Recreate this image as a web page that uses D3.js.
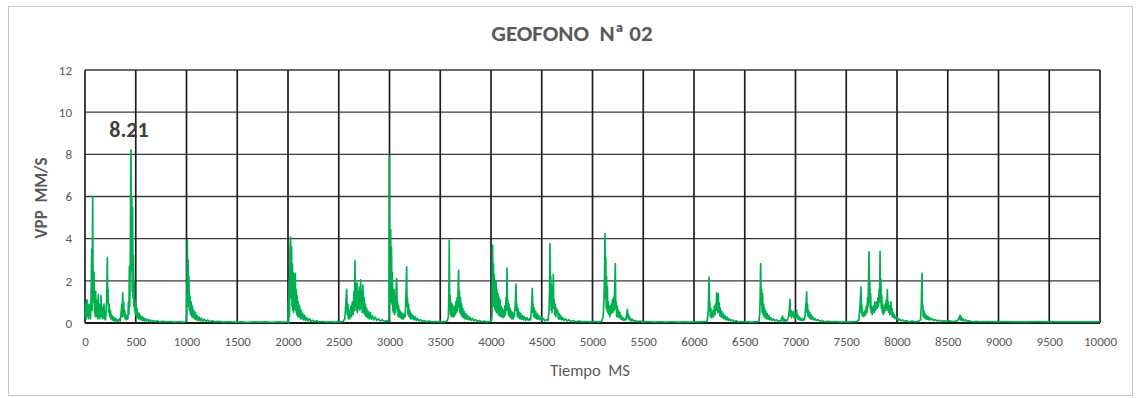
<!DOCTYPE html>
<html>
<head>
<meta charset="utf-8">
<script src="https://cdn.jsdelivr.net/npm/d3@7"></script>
<style>
  html, body { margin: 0; padding: 0; background: #ffffff; }
  svg { display: block; }
  text { font-family: Carlito, "Liberation Sans", Arial, sans-serif; white-space: pre; }
</style>
</head>
<body>
<svg id="chart" width="1139" height="398"></svg>
<script>
// Chart labels
const chartTitle = "GEOFONO  Nª 02";
const yTitle = "VPP  MM/S";
const xTitle = "Tiempo  MS";

// Axis ticks
const xTicks = [0, 500, 1000, 1500, 2000, 2500, 3000, 3500, 4000, 4500, 5000,
                5500, 6000, 6500, 7000, 7500, 8000, 8500, 9000, 9500, 10000];
const yTicks = [0, 2, 4, 6, 8, 10, 12];

// Geophone record: time (ms) and peak particle velocity (mm/s), one burst per array
const burst0 = [[0,0.3],[5,0.9],[10,0.2],[15,1.0],[20,1.1],[25,0.3],[30,0.8],[35,0.2],[40,0.9],[45,0.4],[50,0.7],[55,0.2],[60,1.2],[66,3.5],[70,0.6],[76,6.0],[80,1.0],[84,2.0],[89,2.4],[93,0.5],[97,1.2],[101,0.3],[105,1.5],[109,0.4],[113,1.1],[117,0.3],[122,0.9],[127,0.2],[131,1.35],[135,0.4],[140,0.9],[145,0.2],[150,0.7],[154,0.3],[158,1.3],[162,0.4],[167,0.8],[172,0.2],[177,0.6],[182,0.3],[187,0.9],[192,0.2],[197,0.5],[202,0.15],[208,0.6],[214,1.2],[220,3.1],[224,1.0],[228,1.6],[233,0.5],[238,0.9],[244,0.3],[250,0.6],[256,0.2],[262,0.4],[268,0.15],[275,0.3],[282,0.1],[290,0.25],[298,0.1],[306,0.2],[314,0.08],[322,0.15],[330,0.1],[340,0.2],[348,0.1],[356,0.5],[362,0.9],[367,0.3],[371,1.43],[376,0.5],[381,1.0],[386,0.3],[391,0.6],[396,0.2],[402,0.4],[408,0.15],[415,0.3],[422,0.2],[428,1.0],[433,0.4],[437,2.66],[441,0.8],[446,3.0],[450,6.5],[453,8.21],[457,2.5],[461,6.0],[465,1.5],[469,5.5],[473,1.2],[477,3.2],[481,0.8],[485,2.0],[489,0.6],[493,1.1],[497,0.4],[502,0.9],[507,0.3],[512,0.7],[517,0.25],[522,0.5],[528,0.2],[534,0.45],[540,0.2],[547,0.35],[554,0.15],[561,0.3],[569,0.12],[577,0.25],[586,0.1],[595,0.2],[605,0.1],[616,0.18],[628,0.08],[640,0.15],[655,0.07],[670,0.12],[690,0.06],[710,0.1],[735,0.05],[760,0.08],[800,0.05],[840,0.07],[880,0.04],[920,0.06],[960,0.04],[990,0.06]];

const burst1000 = [[1000,0.1],[1004,1.5],[1008,3.92],[1012,1.0],[1016,3.0],[1020,0.8],[1024,2.2],[1028,0.6],[1034,1.3],[1040,0.4],[1046,1.0],[1052,0.3],[1058,0.8],[1065,0.25],[1072,0.6],[1080,0.2],[1088,0.5],[1096,0.15],[1105,0.35],[1115,0.12],[1125,0.28],[1136,0.1],[1148,0.22],[1160,0.08],[1175,0.18],[1190,0.07],[1210,0.14],[1230,0.06],[1255,0.1],[1280,0.05],[1320,0.08],[1360,0.04],[1420,0.06],[1480,0.04],[1540,0.05],[1600,0.03],[1660,0.05],[1720,0.04],[1780,0.05],[1840,0.03],[1900,0.05],[1960,0.04],[1995,0.05]];

const burst2000 = [[2000,0.1],[2003,1.0],[2007,0.0],[2011,2.0],[2015,0.3],[2020,3.5],[2026,4.08],[2030,1.2],[2035,3.6],[2040,0.8],[2044,2.8],[2048,0.6],[2052,2.4],[2056,0.5],[2060,2.0],[2064,0.7],[2068,2.2],[2072,2.36],[2076,0.6],[2080,1.6],[2085,0.4],[2090,1.3],[2096,0.3],[2102,1.0],[2108,0.3],[2115,0.8],[2122,0.2],[2130,0.6],[2138,0.2],[2146,0.45],[2155,0.15],[2165,0.35],[2175,0.12],[2186,0.25],[2198,0.1],[2212,0.2],[2226,0.08],[2242,0.14],[2260,0.06],[2280,0.1],[2305,0.05],[2340,0.07],[2380,0.04],[2420,0.06],[2460,0.04],[2500,0.05],[2540,0.06],[2560,0.2],[2568,0.8],[2578,1.6],[2584,0.4],[2590,0.9],[2595,0.2],[2602,0.6],[2610,0.2],[2618,0.8],[2626,0.3],[2634,1.0],[2642,0.4],[2650,1.5],[2655,0.6],[2660,2.95],[2665,0.8],[2670,1.8],[2675,0.6],[2680,1.9],[2685,0.5],[2690,1.5],[2696,0.7],[2702,1.7],[2708,0.6],[2716,2.05],[2720,0.7],[2726,1.5],[2732,0.5],[2738,1.8],[2744,0.5],[2750,1.2],[2756,0.4],[2762,0.9],[2769,0.3],[2776,0.7],[2784,0.25],[2792,0.55],[2800,0.2],[2810,0.5],[2820,0.18],[2832,0.35],[2845,0.15],[2860,0.28],[2875,0.12],[2890,0.2],[2910,0.1],[2930,0.15],[2950,0.08],[2970,0.1],[2990,0.07]];

const burst3000 = [[2995,0.3],[2998,7.9],[3001,1.0],[3005,3.0],[3009,1.2],[3012,4.43],[3016,1.0],[3020,3.6],[3024,0.9],[3028,2.4],[3032,0.6],[3036,1.4],[3040,0.5],[3045,1.6],[3050,0.4],[3055,1.2],[3060,0.5],[3066,1.7],[3071,2.1],[3075,0.7],[3080,1.0],[3085,0.3],[3090,0.8],[3096,0.3],[3102,0.6],[3108,0.25],[3115,0.5],[3122,0.2],[3130,0.45],[3138,0.2],[3146,0.4],[3154,0.3],[3160,1.0],[3165,1.8],[3169,2.66],[3173,0.8],[3177,1.2],[3182,0.4],[3188,0.9],[3194,0.3],[3200,0.6],[3207,0.2],[3215,0.45],[3223,0.2],[3232,0.35],[3242,0.15],[3252,0.3],[3263,0.12],[3275,0.22],[3290,0.1],[3305,0.16],[3322,0.08],[3340,0.12],[3360,0.06],[3390,0.09],[3420,0.05],[3460,0.07],[3500,0.05],[3540,0.06],[3570,0.1],[3580,0.3],[3585,1.5],[3589,3.92],[3593,0.6],[3597,1.3],[3601,0.4],[3605,1.0],[3610,0.3],[3615,0.5],[3620,0.9],[3625,0.3],[3630,0.7],[3636,0.3],[3642,0.8],[3648,0.4],[3654,1.0],[3660,0.5],[3666,1.2],[3672,0.6],[3677,1.8],[3681,2.5],[3685,0.8],[3689,1.5],[3694,0.5],[3699,1.2],[3704,0.4],[3710,0.9],[3716,0.3],[3722,0.7],[3729,0.25],[3736,0.55],[3744,0.2],[3752,0.45],[3760,0.18],[3770,0.35],[3780,0.15],[3792,0.28],[3805,0.12],[3818,0.22],[3832,0.1],[3848,0.16],[3865,0.08],[3885,0.12],[3905,0.06],[3930,0.09],[3960,0.05],[3990,0.07],[4005,0.1]];

const burst4000 = [[4010,0.4],[4016,3.69],[4020,1.2],[4024,2.8],[4028,0.8],[4032,2.3],[4036,0.7],[4040,1.9],[4044,0.6],[4050,2.0],[4054,0.5],[4058,1.6],[4062,0.5],[4068,1.4],[4073,0.4],[4078,1.2],[4083,0.35],[4089,1.1],[4094,0.3],[4100,0.8],[4106,0.3],[4112,0.7],[4118,0.25],[4124,0.6],[4130,0.3],[4136,0.8],[4142,0.4],[4148,1.2],[4153,0.6],[4158,2.6],[4162,0.7],[4166,1.1],[4171,0.4],[4176,0.9],[4182,0.3],[4188,0.7],[4194,0.25],[4200,0.55],[4206,0.2],[4212,0.5],[4218,0.2],[4224,0.4],[4230,0.3],[4236,0.7],[4241,1.0],[4246,1.84],[4250,0.6],[4255,0.9],[4260,0.3],[4266,0.7],[4272,0.25],[4279,0.5],[4286,0.2],[4293,0.45],[4301,0.18],[4310,0.35],[4320,0.15],[4330,0.3],[4342,0.12],[4355,0.25],[4368,0.12],[4380,0.2],[4390,0.15],[4397,0.6],[4402,1.0],[4407,1.64],[4411,0.5],[4416,0.9],[4421,0.3],[4427,0.7],[4433,0.25],[4440,0.55],[4447,0.2],[4455,0.45],[4463,0.18],[4472,0.35],[4482,0.15],[4493,0.28],[4505,0.12],[4518,0.22],[4532,0.1],[4548,0.16],[4562,0.12],[4572,0.6],[4577,1.5],[4581,3.77],[4585,1.0],[4589,2.2],[4593,0.6],[4597,1.65],[4601,0.5],[4606,1.8],[4610,0.8],[4614,2.3],[4618,0.7],[4622,1.1],[4627,0.4],[4632,0.9],[4638,0.3],[4644,0.7],[4650,0.5],[4656,0.6],[4663,0.2],[4670,0.45],[4678,0.18],[4687,0.35],[4697,0.15],[4708,0.25],[4720,0.12],[4734,0.2],[4750,0.1],[4768,0.15],[4788,0.08],[4810,0.12],[4835,0.06],[4865,0.09],[4900,0.05],[4940,0.07],[4980,0.05]];

const burst5000 = [[5020,0.07],[5060,0.05],[5090,0.08],[5105,0.3],[5112,1.0],[5118,2.0],[5123,4.24],[5127,1.2],[5131,3.1],[5135,0.7],[5139,2.2],[5143,0.6],[5147,1.7],[5151,0.5],[5156,1.0],[5161,0.4],[5166,0.8],[5171,0.3],[5175,0.8],[5180,0.4],[5185,0.9],[5190,0.5],[5196,1.1],[5202,0.5],[5208,1.2],[5214,0.6],[5220,1.8],[5225,2.82],[5229,0.7],[5233,1.0],[5238,0.3],[5244,0.8],[5250,0.3],[5256,0.6],[5263,0.25],[5270,0.5],[5276,0.2],[5284,0.35],[5292,0.15],[5300,0.25],[5310,0.12],[5320,0.2],[5330,0.15],[5336,0.4],[5343,0.65],[5348,0.25],[5355,0.4],[5362,0.15],[5370,0.25],[5380,0.1],[5392,0.18],[5405,0.08],[5420,0.12],[5440,0.07],[5465,0.09],[5500,0.05],[5550,0.07],[5600,0.04],[5660,0.06],[5720,0.04],[5780,0.06],[5840,0.04],[5900,0.05],[5960,0.04],[6020,0.06],[6080,0.05],[6130,0.08]];

const burst6000 = [[6140,0.5],[6144,1.2],[6148,2.16],[6152,0.6],[6156,1.0],[6161,0.3],[6166,0.7],[6171,0.25],[6176,0.5],[6182,0.3],[6188,0.6],[6194,0.3],[6200,0.8],[6206,0.4],[6212,0.9],[6218,0.6],[6223,1.43],[6227,0.6],[6231,1.0],[6235,0.5],[6240,1.4],[6244,0.5],[6249,0.95],[6254,0.35],[6260,0.7],[6266,0.3],[6273,0.55],[6280,0.25],[6288,0.45],[6296,0.2],[6305,0.35],[6315,0.15],[6326,0.28],[6338,0.12],[6350,0.2],[6362,0.1],[6378,0.15],[6395,0.07],[6415,0.1],[6440,0.05],[6470,0.07],[6500,0.05],[6530,0.06],[6560,0.04],[6590,0.06],[6620,0.05],[6640,0.08],[6648,0.5],[6652,1.3],[6657,2.82],[6661,0.9],[6666,1.6],[6671,0.5],[6676,1.4],[6681,0.4],[6686,0.9],[6691,0.3],[6696,0.7],[6701,0.25],[6707,0.55],[6714,0.2],[6722,0.45],[6730,0.18],[6739,0.35],[6748,0.15],[6758,0.25],[6770,0.12],[6782,0.2],[6796,0.1],[6813,0.15],[6830,0.08],[6848,0.12],[6860,0.1],[6866,0.25],[6873,0.33],[6879,0.1],[6886,0.2],[6895,0.08],[6905,0.15],[6915,0.1],[6925,0.2],[6932,0.3],[6940,0.7],[6946,1.12],[6950,0.35],[6955,0.6],[6960,0.25],[6966,0.5],[6972,0.35],[6978,0.55],[6984,0.25],[6990,0.4],[6996,0.2]];

const burst7000 = [[7002,0.45],[7007,0.3],[7011,0.6],[7016,0.25],[7021,0.4],[7027,0.18],[7033,0.3],[7040,0.15],[7048,0.25],[7056,0.12],[7064,0.2],[7072,0.12],[7080,0.2],[7088,0.15],[7095,0.4],[7100,0.8],[7105,1.0],[7110,1.48],[7114,0.5],[7118,0.9],[7123,0.35],[7128,0.6],[7134,0.25],[7140,0.5],[7147,0.2],[7154,0.4],[7161,0.18],[7170,0.3],[7180,0.15],[7192,0.22],[7205,0.12],[7220,0.16],[7238,0.08],[7260,0.12],[7285,0.06],[7320,0.08],[7360,0.05],[7400,0.07],[7450,0.04],[7500,0.06],[7550,0.05],[7600,0.07],[7625,0.15],[7632,0.6],[7638,1.0],[7645,1.72],[7649,0.5],[7653,0.9],[7658,0.35],[7663,0.5],[7668,0.3],[7674,0.5],[7680,0.35],[7686,0.6],[7692,0.4],[7698,0.8],[7704,0.5],[7710,1.2],[7715,0.8],[7720,2.0],[7724,3.37],[7728,1.0],[7732,2.0],[7736,0.7],[7740,1.4],[7745,0.5],[7750,0.8],[7755,0.4],[7760,0.6],[7764,0.5],[7770,0.8],[7776,0.5],[7782,1.0],[7788,0.6],[7794,0.9],[7800,1.0],[7806,0.7],[7812,1.2],[7818,0.8],[7824,1.6],[7829,1.0],[7833,3.4],[7837,1.0],[7841,2.1],[7845,0.7],[7850,1.3],[7855,0.5],[7860,0.9],[7865,0.4],[7870,0.6],[7876,0.5],[7882,0.9],[7888,0.6],[7894,1.1],[7899,0.7],[7905,1.59],[7909,0.6],[7914,1.0],[7919,0.5],[7924,0.8],[7929,0.4],[7935,0.7],[7940,1.0],[7945,0.4],[7950,0.7],[7955,0.3],[7960,0.5],[7967,0.25],[7974,0.4],[7982,0.2],[7990,0.3],[7997,0.2]];

const burst8000 = [[8006,0.25],[8016,0.12],[8028,0.18],[8042,0.1],[8058,0.14],[8075,0.08],[8095,0.11],[8120,0.06],[8150,0.09],[8180,0.06],[8210,0.08],[8232,0.15],[8240,0.9],[8246,2.35],[8250,0.7],[8254,0.85],[8259,0.3],[8264,0.6],[8270,0.25],[8276,0.45],[8283,0.2],[8290,0.35],[8298,0.18],[8306,0.3],[8315,0.15],[8325,0.25],[8336,0.15],[8348,0.2],[8362,0.12],[8378,0.16],[8395,0.1],[8415,0.13],[8440,0.08],[8465,0.11],[8490,0.07],[8520,0.1],[8550,0.07],[8580,0.09],[8600,0.12],[8610,0.25],[8616,0.2],[8621,0.38],[8626,0.15],[8632,0.3],[8640,0.12],[8650,0.2],[8662,0.1],[8676,0.15],[8692,0.08],[8710,0.1],[8740,0.06],[8780,0.08],[8830,0.06],[8900,0.07],[8980,0.05]];

const burst9000 = [[9060,0.07],[9140,0.05],[9220,0.06],[9300,0.05],[9380,0.07],[9460,0.05],[9540,0.06],[9620,0.05],[9700,0.06],[9780,0.05],[9860,0.06],[9940,0.05],[10000,0.06]];

const series = [].concat(burst0, burst1000, burst2000, burst3000, burst4000,
                         burst5000, burst6000, burst7000, burst8000, burst9000);

// Layout
const W = 1139, H = 398;
const plot = { left: 85, right: 1100, top: 70, bottom: 323 };
const ink = "#595959";

const svg = d3.select("#chart");

svg.append("rect").attr("width", W).attr("height", H).attr("fill", "#ffffff");

// Outer chart frame
svg.append("rect")
  .attr("x", 8.5).attr("y", 6.5)
  .attr("width", 1124).attr("height", 389)
  .attr("fill", "none").attr("stroke", "#c8c8c8").attr("stroke-width", 1);

const x = d3.scaleLinear().domain([0, 10000]).range([plot.left, plot.right]);
const y = d3.scaleLinear().domain([0, 12]).range([plot.bottom, plot.top]);

// Horizontal grid
svg.append("g")
  .selectAll("line")
  .data(yTicks)
  .join("line")
  .attr("x1", plot.left).attr("x2", plot.right)
  .attr("y1", d => y(d)).attr("y2", d => y(d))
  .attr("stroke", "#3a3a3a").attr("stroke-width", 1.3);

// Vertical grid
svg.append("g")
  .selectAll("line")
  .data(xTicks)
  .join("line")
  .attr("x1", d => x(d)).attr("x2", d => x(d))
  .attr("y1", plot.top).attr("y2", plot.bottom)
  .attr("stroke", "#1e1e1e").attr("stroke-width", 1.7);

// Y axis labels
const yAxis = svg.append("g")
  .attr("transform", `translate(${plot.left},0)`)
  .call(d3.axisLeft(y).tickValues(yTicks).tickSize(0).tickPadding(13).tickFormat(d3.format("d")));
yAxis.select(".domain").remove();
yAxis.selectAll("text").attr("fill", ink).style("font-size", "13px");

// X axis labels
const xAxis = svg.append("g")
  .attr("transform", `translate(0,${plot.bottom})`)
  .call(d3.axisBottom(x).tickValues(xTicks).tickSize(0).tickPadding(14).tickFormat(d3.format("d")));
xAxis.select(".domain").remove();
xAxis.selectAll("text").attr("fill", ink).style("font-size", "13px");

// Baseline
svg.append("line")
  .attr("x1", plot.left).attr("x2", plot.right)
  .attr("y1", y(0)).attr("y2", y(0))
  .attr("stroke", "#1a1a1a").attr("stroke-width", 2);

// Velocity trace
const line = d3.line().x(d => x(d[0])).y(d => y(d[1]));
svg.append("path")
  .datum(series)
  .attr("d", line)
  .attr("fill", "none")
  .attr("stroke", "#00b050")
  .attr("stroke-width", 1.7)
  .attr("stroke-linejoin", "round");

// Peak value label
const peak = series.reduce((a, b) => (b[1] > a[1] ? b : a));
svg.append("text")
  .attr("x", x(peak[0]) - 2)
  .attr("y", y(peak[1]) - 13)
  .attr("text-anchor", "middle")
  .attr("fill", "#404040")
  .style("font-size", "22px").style("font-weight", "bold")
  .text(peak[1].toFixed(2));

// Title
svg.append("text")
  .attr("x", 572).attr("y", 41)
  .attr("text-anchor", "middle")
  .attr("fill", ink)
  .style("font-size", "23px").style("font-weight", "bold")
  .text(chartTitle);

// Axis titles
svg.append("text")
  .attr("transform", `translate(47,198) rotate(-90)`)
  .attr("text-anchor", "middle")
  .attr("fill", ink)
  .style("font-size", "17px").style("font-weight", "bold")
  .text(yTitle);

svg.append("text")
  .attr("x", 590).attr("y", 376)
  .attr("text-anchor", "middle")
  .attr("fill", ink)
  .style("font-size", "16.5px")
  .text(xTitle);
</script>
</body>
</html>
